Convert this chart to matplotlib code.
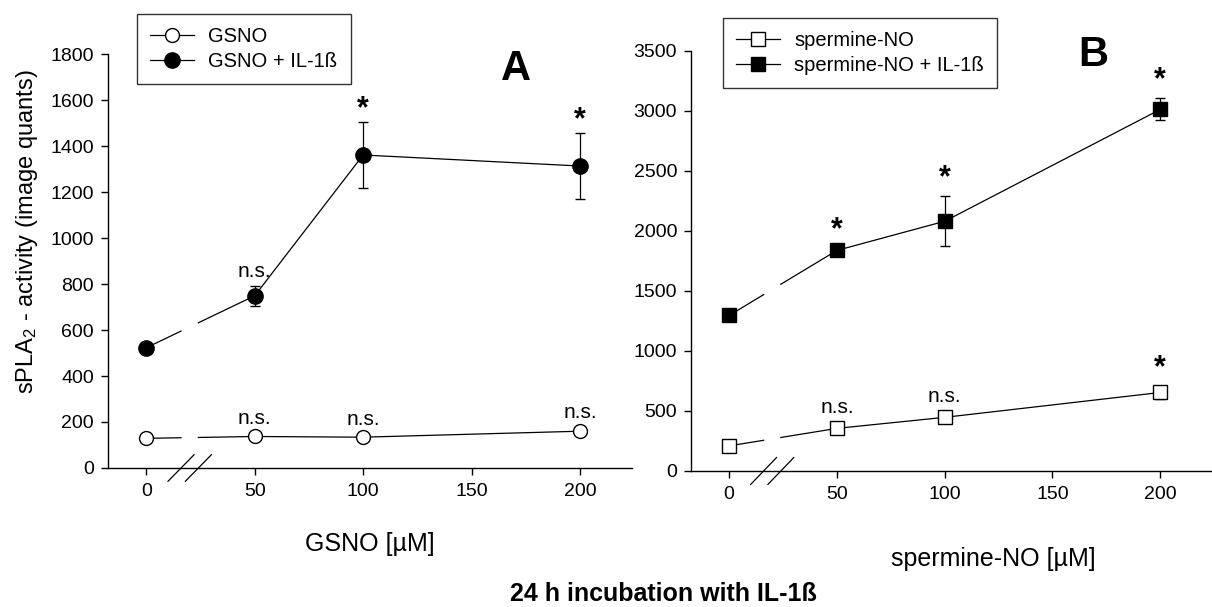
import numpy as np
import matplotlib.pyplot as plt
from matplotlib.lines import Line2D

plt.rcParams['font.family'] = ['Liberation Sans', 'DejaVu Sans']
plt.rcParams['mathtext.fontset'] = 'custom'
plt.rcParams['mathtext.rm'] = 'Liberation Sans'
plt.rcParams['mathtext.it'] = 'Liberation Sans'
plt.rcParams['mathtext.bf'] = 'Liberation Sans:bold'

# concentrations [uM]
conc = [0, 50, 100, 200]
x_ticks = [0, 50, 100, 150, 200]

# panel A - GSNO
gsno = [129, 137, 134, 160]
gsno_err = [8, 8, 8, 10]
gsno_il = [523, 749, 1361, 1313]
gsno_il_err = [20, 44, 142, 142]
gsno_marks = ["", "n.s.", "n.s.", "n.s."]
gsno_il_marks = ["", "n.s.", "*", "*"]

# panel B - spermine-NO
sperm = [209, 355, 447, 654]
sperm_err = [15, 20, 20, 58]
sperm_il = [1296, 1838, 2081, 3013]
sperm_il_err = [30, 20, 210, 92]
sperm_marks = ["", "n.s.", "n.s.", "*"]
sperm_il_marks = ["", "*", "*", "*"]

gap = (16, 24)  # axis break between 0 and 50


def draw_series(ax, y, err, marker, face, ms):
    x = np.array(conc, dtype=float)
    y = np.array(y, dtype=float)
    # broken connecting line across the axis break
    g0 = np.interp(gap[0], x[:2], y[:2])
    g1 = np.interp(gap[1], x[:2], y[:2])
    ax.plot([x[0], gap[0]], [y[0], g0], color='black', lw=0.9, zorder=2)
    ax.plot(np.r_[gap[1], x[1:]], np.r_[g1, y[1:]], color='black', lw=0.9, zorder=2)
    ax.errorbar(x, y, yerr=err, fmt=marker, mfc=face, mec='black', mew=1.0,
                ms=ms, ecolor='black', elinewidth=0.9, capsize=3.5, capthick=0.9,
                zorder=3)


def annotate(ax, y, err, marks, offset):
    for xi, yi, ei, m in zip(conc, y, err, marks):
        if not m:
            continue
        if m == "*":
            ax.text(xi, yi + ei + offset * 0.95, m, ha='center', va='center',
                    fontsize=22, fontweight='bold')
        else:
            ax.text(xi, yi + ei + offset, m, ha='center', va='center', fontsize=15)


def style_axis(ax, ymax, ystep):
    ax.set_xlim(-17.7, 224)
    ax.set_ylim(0, ymax)
    ax.set_xticks(x_ticks)
    ax.set_yticks(np.arange(0, ymax + 1, ystep))
    ax.spines['top'].set_visible(False)
    ax.spines['right'].set_visible(False)
    for s in ['left', 'bottom']:
        ax.spines[s].set_linewidth(1.0)
    ax.tick_params(direction='out', length=5, width=1.0, labelsize=14)
    ax.tick_params(axis='x', pad=6)
    ax.tick_params(axis='y', pad=5)
    # break marks
    tr = ax.get_xaxis_transform()
    for c in gap:
        ax.plot([c - 6, c + 6], [-0.032, 0.032], color='black', lw=0.9,
                transform=tr, clip_on=False, zorder=4)


fig = plt.figure(figsize=(12.12, 6.07), dpi=100)
ax1 = fig.add_axes([0.0891, 0.2290, 0.4323, 0.6820])
ax2 = fig.add_axes([0.5701, 0.2241, 0.4299, 0.6919])

# panel A
draw_series(ax1, gsno, gsno_err, 'o', 'white', 10)
draw_series(ax1, gsno_il, gsno_il_err, 'o', 'black', 11)
annotate(ax1, gsno, gsno_err, gsno_marks, 70)
annotate(ax1, gsno_il, gsno_il_err, gsno_il_marks, 60)
style_axis(ax1, 1800, 200)
ax1.set_xlabel('GSNO [µM]', fontsize=18)
ax1.xaxis.set_label_coords(0.5, -0.155)
ax1.set_ylabel('sPLA$_2$ - activity (image quants)', fontsize=17)
ax1.yaxis.set_label_coords(-0.13, 0.57)

h1 = [Line2D([], [], color='black', lw=0.9, marker='o', mfc='white', mec='black', ms=10),
      Line2D([], [], color='black', lw=0.9, marker='o', mfc='black', mec='black', ms=11)]
leg1 = ax1.legend(h1, ['GSNO', 'GSNO + IL-1ß'], loc='upper left',
                  bbox_to_anchor=(0.055, 1.097), fontsize=14.5, frameon=True,
                  fancybox=False, edgecolor='black', handlelength=2.2,
                  handletextpad=0.7, borderpad=0.65, labelspacing=0.3,
                  borderaxespad=0)
leg1.get_frame().set_linewidth(1.0)

# panel B
draw_series(ax2, sperm, sperm_err, 's', 'white', 9.5)
draw_series(ax2, sperm_il, sperm_il_err, 's', 'black', 9.5)
annotate(ax2, sperm, sperm_err, sperm_marks, 150)
annotate(ax2, sperm_il, sperm_il_err, sperm_il_marks, 160)
style_axis(ax2, 3500, 500)
ax2.set_xlabel('spermine-NO [µM]', fontsize=18)
ax2.xaxis.set_label_coords(0.58, -0.18)

h2 = [Line2D([], [], color='black', lw=0.9, marker='s', mfc='white', mec='black', ms=9.5),
      Line2D([], [], color='black', lw=0.9, marker='s', mfc='black', mec='black', ms=9.5)]
leg2 = ax2.legend(h2, ['spermine-NO', 'spermine-NO + IL-1ß'], loc='upper left',
                  bbox_to_anchor=(0.061, 1.079), fontsize=14.5, frameon=True,
                  fancybox=False, edgecolor='black', handlelength=2.2,
                  handletextpad=0.7, borderpad=0.65, labelspacing=0.3,
                  borderaxespad=0)
leg2.get_frame().set_linewidth(1.0)

fig.text(0.4257, 0.8863, 'A', ha='center', va='center', fontsize=30, fontweight='bold')
fig.text(0.9018, 0.9094, 'B', ha='center', va='center', fontsize=30, fontweight='bold')
fig.text(0.547, 0.022, '24 h incubation with IL-1ß', ha='center', va='center',
         fontsize=18, fontweight='bold')

fig.savefig('out.png', dpi=100)
